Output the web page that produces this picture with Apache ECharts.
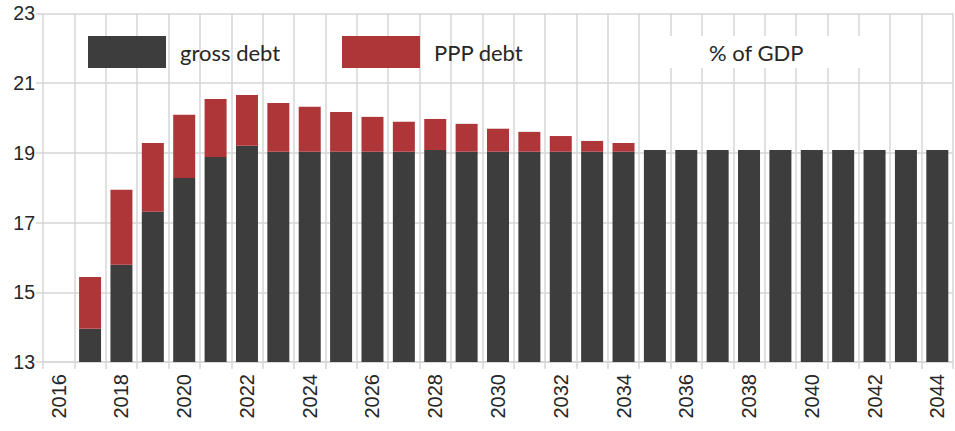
<!DOCTYPE html>
<html>
<head>
<meta charset="utf-8">
<script src="https://cdn.jsdelivr.net/npm/echarts@6/dist/echarts.min.js"></script>
<style>
  html, body { margin: 0; padding: 0; background: #fff; }
  #chart { width: 955px; height: 431px; }
</style>
</head>
<body>
<div id="chart"></div>
<script>
var years = ['2016', '2017', '2018', '2019', '2020', '2021', '2022', '2023', '2024', '2025',
  '2026', '2027', '2028', '2029', '2030', '2031', '2032', '2033', '2034', '2035',
  '2036', '2037', '2038', '2039', '2040', '2041', '2042', '2043', '2044'];
// gross debt, % of GDP
var grossDebt = [null, 13.95, 15.79, 17.31, 18.28, 18.88, 19.20, 19.03, 19.03, 19.03,
  19.03, 19.03, 19.08, 19.03, 19.03, 19.03, 19.03, 19.03, 19.03, 19.08,
  19.08, 19.08, 19.08, 19.08, 19.08, 19.08, 19.08, 19.08, 19.08];
// PPP debt stacked on top
var pppDebt = [null, 1.49, 2.15, 1.97, 1.81, 1.66, 1.46, 1.40, 1.29, 1.14,
  1.00, 0.86, 0.89, 0.80, 0.66, 0.57, 0.45, 0.31, 0.25, null,
  null, null, null, null, null, null, null, null, null];
var yTicks = [13, 15, 17, 19, 21, 23];

var dark = '#3d3d3d';
var red = '#ae3538';
var gridCol = '#d6d6d6';
var ink = '#262626';
var legendFont = 'Lato';
var axisFont = 'Arial';

var chart = echarts.init(document.getElementById('chart'), null, { renderer: 'svg' });

function legendAt(name, left) {
  return {
    data: [name],
    left: left,
    top: 36,
    padding: 0,
    icon: 'rect',
    itemWidth: 78,
    itemHeight: 32,
    selectedMode: false,
    textStyle: { color: ink, fontSize: 22, fontFamily: legendFont, padding: [0, 0, 0, 9] }
  };
}

chart.setOption({
  animation: false,
  color: [dark, red],
  title: {
    text: '% of GDP',
    left: 648,
    top: 36,
    backgroundColor: '#fff',
    padding: [5, 61],
    textStyle: { color: ink, fontSize: 22, lineHeight: 22, fontWeight: 'normal', fontFamily: legendFont }
  },
  legend: [legendAt('gross debt', 88), legendAt('PPP debt', 342)],
  grid: { left: 43, right: 2, top: 13.3, bottom: 69 },
  xAxis: {
    type: 'category',
    data: years,
    axisLine: { show: true, lineStyle: { color: gridCol, width: 1.5 } },
    axisTick: { show: true, interval: 0, length: 7, lineStyle: { color: gridCol, width: 1.5 } },
    axisLabel: { interval: 1, rotate: 90, margin: 12, fontSize: 20, color: ink, fontFamily: axisFont },
    splitLine: { show: true, interval: 0, lineStyle: { color: gridCol, width: 1.5 } }
  },
  yAxis: {
    type: 'value',
    min: yTicks[0],
    max: yTicks[yTicks.length - 1],
    interval: 2,
    axisLine: { show: false },
    axisTick: { show: true, length: 7, lineStyle: { color: gridCol, width: 1.5 } },
    axisLabel: { margin: 8, fontSize: 19.5, color: ink, fontFamily: axisFont },
    splitLine: { show: true, lineStyle: { color: gridCol, width: 1.5 } }
  },
  series: [
    {
      name: 'gross debt',
      type: 'bar',
      stack: 'debt',
      barWidth: 22,
      itemStyle: { color: dark },
      data: grossDebt
    },
    {
      name: 'PPP debt',
      type: 'bar',
      stack: 'debt',
      barWidth: 22,
      itemStyle: { color: red },
      data: pppDebt
    }
  ]
});
window.addEventListener('resize', function() { chart.resize(); });
</script>
</body>
</html>
